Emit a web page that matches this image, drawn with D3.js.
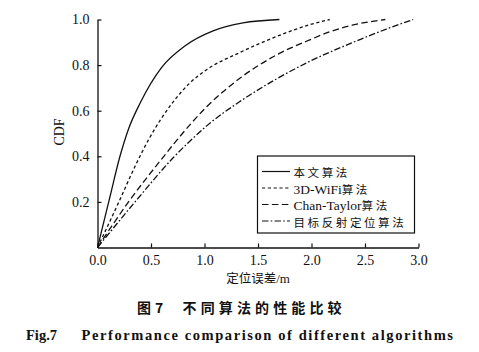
<!DOCTYPE html>
<html>
<head>
<meta charset="utf-8">
<script src="https://cdn.jsdelivr.net/npm/d3@7"></script>
<style>
  body { margin: 0; background: #fff; }
  svg { display: block; }
</style>
</head>
<body>
<svg id="chart"></svg>
<script>
var width = 479;
var height = 352;

// error (m) vs CDF
var ours = [[0,0],[0.11,0.21],[0.21,0.4],[0.29,0.52],[0.4,0.635],[0.6,0.79],[0.82,0.885],[1.08,0.95],[1.36,0.985],[1.7,1.0]];
var wifi3d = [[0,0],[0.2,0.2],[0.35,0.355],[0.48,0.475],[0.71,0.64],[0.86,0.72],[1.02,0.78],[1.33,0.855],[1.67,0.925],[1.99,0.978],[2.17,1.0]];
var chanTaylor = [[0,0],[0.29,0.2],[0.62,0.4],[0.74,0.47],[1.02,0.617],[1.33,0.742],[1.675,0.845],[1.99,0.912],[2.17,0.946],[2.39,0.976],[2.69,1.0]];
var targetRefl = [[0,0],[0.36,0.205],[0.71,0.395],[0.86,0.465],[1.05,0.545],[1.33,0.64],[1.675,0.74],[1.99,0.818],[2.39,0.9],[2.7,0.958],[2.95,1.0]];

var seriesNames = ["本文算法", "3D-WiFi算法", "Chan-Taylor算法", "目标反射定位算法"];
var xTicks = [0, 0.5, 1.0, 1.5, 2.0, 2.5, 3.0];
var yTicks = [0.2, 0.4, 0.6, 0.8, 1.0];

var dashes = ["none", "3.2,2.6", "6.5,3.4", "6.5,2.2,1.6,2.2"];
var allSeries = [ours, wifi3d, chanTaylor, targetRefl];

var svg = d3.select("#chart")
  .attr("width", width)
  .attr("height", height);

var x = d3.scaleLinear().domain([0, 3]).range([97.5, 418.5]);
var y = d3.scaleLinear().domain([0, 1]).range([247.5, 19.5]);

var serif = "Liberation Serif, DejaVu Serif, serif";
var cjkFont = "Noto Sans CJK SC, sans-serif";

// axes, ticks pointing inward
var xAxis = d3.axisBottom(x).tickValues(xTicks).tickFormat(d3.format(".1f"))
  .tickSizeInner(-4).tickSizeOuter(0).tickPadding(10);
var yAxis = d3.axisLeft(y).tickValues(yTicks).tickFormat(d3.format(".1f"))
  .tickSizeInner(-4).tickSizeOuter(0).tickPadding(8);

var gx = svg.append("g").attr("transform", "translate(0," + y(0) + ")").call(xAxis);
var gy = svg.append("g").attr("transform", "translate(" + x(0) + ",0)").call(yAxis);

[gx, gy].forEach(function(g) {
  g.attr("font-family", serif).attr("font-size", 14);
  g.select(".domain").attr("stroke", "#111").attr("stroke-width", 1.3);
  g.selectAll(".tick line").attr("stroke", "#111").attr("stroke-width", 1.2);
  g.selectAll(".tick text").attr("fill", "#111");
});
gx.selectAll(".tick text").attr("dy", "0.71em").attr("y", 8);

// curves
var line = d3.line()
  .x(function(d) { return x(d[0]); })
  .y(function(d) { return y(d[1]); })
  .curve(d3.curveMonotoneX);

svg.selectAll("path.series")
  .data(allSeries)
  .enter().append("path")
  .attr("class", "series")
  .attr("d", line)
  .attr("fill", "none")
  .attr("stroke", "#111")
  .attr("stroke-width", 1.3)
  .attr("stroke-dasharray", function(d, i) { return dashes[i]; });

// axis titles
svg.append("text")
  .attr("transform", "translate(64,132) rotate(-90)")
  .attr("text-anchor", "middle")
  .attr("font-family", serif)
  .attr("font-size", 14)
  .attr("fill", "#111")
  .text("CDF");

var xTitle = svg.append("text")
  .attr("x", 258)
  .attr("y", 283)
  .attr("text-anchor", "middle")
  .attr("fill", "#111");
xTitle.append("tspan").attr("font-family", cjkFont).attr("font-size", 12.5).text("定位误差");
xTitle.append("tspan").attr("font-family", serif).attr("font-size", 13).text("/m");

// legend
var legend = svg.append("g");
legend.append("rect")
  .attr("x", 257.5).attr("y", 156)
  .attr("width", 157).attr("height", 77)
  .attr("fill", "#fff")
  .attr("stroke", "#111")
  .attr("stroke-width", 1.2);

var rowY = [171.5, 188, 204.5, 221];
var items = legend.selectAll("g.item")
  .data(seriesNames)
  .enter().append("g")
  .attr("class", "item")
  .attr("transform", function(d, i) { return "translate(0," + rowY[i] + ")"; });

items.append("line")
  .attr("x1", 262).attr("x2", 290)
  .attr("stroke", "#111")
  .attr("stroke-width", 1.2)
  .attr("stroke-dasharray", function(d, i) { return dashes[i]; });

// latin part in serif, chinese part spaced out a little
items.append("text")
  .attr("x", 293.5)
  .attr("dy", "0.36em")
  .attr("fill", "#111")
  .each(function(d) {
    var t = d3.select(this);
    var m = d.match(/^([\x00-\x7f]*)(.*)$/);
    if (m[1]) {
      t.append("tspan").attr("font-family", serif).attr("font-size", 13.5).text(m[1]);
    }
    t.append("tspan").attr("font-family", cjkFont).attr("font-size", 11.5)
      .attr("letter-spacing", 2.6).text(m[2]);
  });

// captions
var capStyle = function(sel) {
  return sel.attr("font-family", cjkFont)
    .attr("font-size", 14)
    .attr("font-weight", "bold")
    .attr("fill", "#111");
};
svg.append("text").attr("x", 137).attr("y", 313).call(capStyle).text("图");
svg.append("text").attr("x", 155).attr("y", 313).call(capStyle).text("7");
svg.append("text")
  .attr("x", 182.5).attr("y", 313)
  .attr("textLength", 159)
  .attr("lengthAdjust", "spacing")
  .call(capStyle)
  .text("不同算法的性能比较");

svg.append("text")
  .attr("x", 26).attr("y", 340)
  .attr("font-family", serif)
  .attr("font-size", 14.5)
  .attr("font-weight", "bold")
  .attr("fill", "#111")
  .text("Fig.7");

svg.append("text")
  .attr("x", 81.5).attr("y", 340)
  .attr("textLength", 371.5)
  .attr("lengthAdjust", "spacing")
  .attr("font-family", serif)
  .attr("font-size", 14.5)
  .attr("font-weight", "bold")
  .attr("fill", "#111")
  .text("Performance comparison of different algorithms");
</script>
</body>
</html>
